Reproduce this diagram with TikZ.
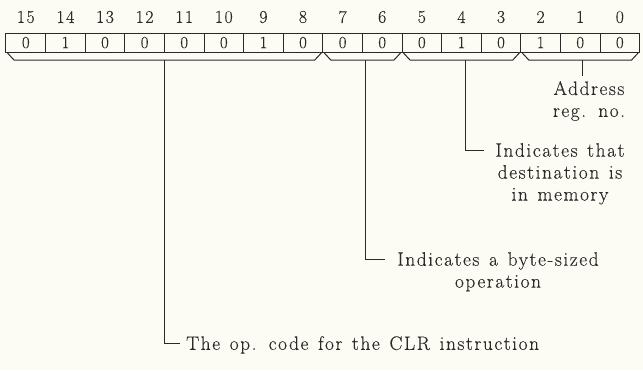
\documentclass[tikz,border=0pt]{standalone}
\usepackage{fontspec}
\setmainfont{Latin Modern Roman}[LetterSpace=8,WordSpace=1.3,FakeBold=0.2]
\definecolor{paper}{HTML}{FCFCF5}
\definecolor{ink}{HTML}{2A2A2A}
\begin{document}
\begin{tikzpicture}[x=1bp,y=-1bp,
  every node/.style={text=ink},
  cell/.style={draw=ink,line width=1bp,minimum width=39.6bp,minimum height=19bp,
    inner sep=0pt,font=\fontsize{17}{17}\selectfont},
  bitno/.style={inner sep=0pt,font=\fontsize{18}{18}\selectfont},
  brace/.style={draw=ink,line width=1bp},
  lead/.style={draw=ink,line width=1bp},
  note/.style={inner sep=0pt,align=center,font=\fontsize{19.5}{22}\selectfont}]
\useasboundingbox (0,0) rectangle (643,370);
\fill[paper] (0,0) rectangle (643,370);

% the 16-bit register: bit numbers and contents
\foreach \v [count=\i from 0] in {0,1,0,0,0,0,1,0,0,0,0,1,0,1,0,0}{
  \pgfmathtruncatemacro{\bit}{15-\i}
  \node[cell] (c\i) at ({6+(\i+0.5)*39.6},42.5) {\v};
  \node[bitno] (n\i) at ({6+(\i+0.5)*39.6},17) {\bit};
}

% field braces under the register
\foreach \a/\b in {6/322.8, 322.8/402, 402/520.8, 520.8/639.6}{
  \draw[brace] (\a+1.5,53) -- (\a+8,60) -- (\b-8,60) -- (\b-1.5,53);
}
\coordinate (g1) at (164,60);
\coordinate (g2) at (365,60);
\coordinate (g3) at (465,60);
\coordinate (g4) at (582,60);

% field descriptions
\node[note,anchor=north] (addr) at (589,81) {Address\\reg. no.};
\node[note,anchor=north] (mem) at (560,143) {Indicates that\\destination is\\in memory};
\node[note,anchor=north] (byte) at (498,252) {Indicates a byte-sized\\operation};
\node[note,anchor=north west] (op) at (186,336) {The op. code for the CLR instruction};

% leaders from the braces to the descriptions
\coordinate (m4) at (582,76);
\coordinate (m3) at (484,150);
\coordinate (m2) at (385,259);
\coordinate (m1) at (180,343);
\draw[lead] (g4) -- (m4);
\draw[lead] (g3) |- (m3);
\draw[lead] (g2) |- (m2);
\draw[lead] (g1) |- (m1);
\end{tikzpicture}
\end{document}
